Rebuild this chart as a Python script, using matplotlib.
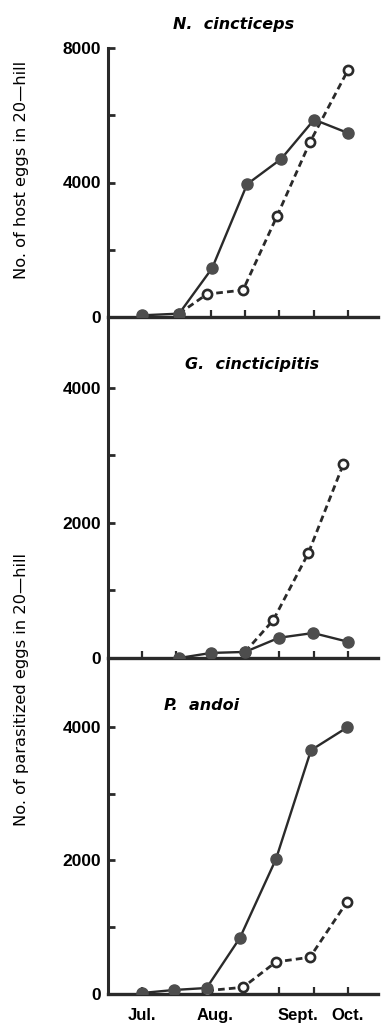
import matplotlib.pyplot as plt

# sampling index (10-day steps from early July to October)
tick_idx = [0, 1, 2, 3, 4, 5, 6]
month_pos = [0, 2.13, 4.55, 5.97]
month_labels = ['Jul.', 'Aug.', 'Sept.', 'Oct.']

# N. cincticeps (host eggs)
host_x_solid = [0, 1.08, 2.04, 3.06, 4.05, 5.01, 6.0]
host_solid = [50, 100, 1450, 3950, 4700, 5870, 5470]
host_x_open = [1.08, 1.89, 2.94, 3.93, 4.89, 6.0]
host_open = [100, 680, 800, 3000, 5200, 7350]

# G. cincticipitis (parasitized eggs)
gon_x_solid = [1.08, 2.01, 3.0, 3.99, 4.98, 6.0]
gon_solid = [0, 75, 90, 300, 370, 240]
gon_x_open = [3.0, 3.82, 4.84, 5.86]
gon_open = [90, 560, 1550, 2870]

# P. andoi (parasitized eggs)
pan_x_solid = [0, 0.93, 1.88, 2.85, 3.9, 4.92, 5.97]
pan_solid = [15, 60, 90, 840, 2020, 3650, 3990]
pan_x_open = [1.9, 2.94, 3.9, 4.89, 5.97]
pan_open = [50, 100, 480, 550, 1380]

line_col = '#2a2a2a'
dot_col = '#4d4d4d'
num_font = ['Liberation Sans', 'DejaVu Sans']

fig = plt.figure(figsize=(3.81, 10.29), dpi=100)
W, H = 381.0, 1029.0


def make_ax(top, bottom):
    return fig.add_axes([108 / W, 1 - bottom / H, (378 - 108) / W, (bottom - top) / H])


ax1 = make_ax(48, 317)
ax2 = make_ax(317, 658)
ax3 = make_ax(658, 994)

panels = [
    (ax1, host_x_solid, host_solid, host_x_open, host_open, 8000, [0, 2000, 4000, 6000, 8000], [0, 4000, 8000]),
    (ax2, gon_x_solid, gon_solid, gon_x_open, gon_open, 5050, [0, 1000, 2000, 3000, 4000], [0, 2000, 4000]),
    (ax3, pan_x_solid, pan_solid, pan_x_open, pan_open, 5030, [0, 1000, 2000, 3000, 4000], [0, 2000, 4000]),
]

for ax, xs, ys, xo, yo, ytop, yticks, ylabeled in panels:
    ax.plot(xo, yo, color=line_col, lw=2.0, ls=(0, (2.4, 1.5)), marker='o', ms=6.6,
            mfc='white', mec=line_col, mew=1.9, zorder=3)
    ax.plot(xs, ys, color=line_col, lw=1.7, marker='o', ms=8, mfc=dot_col, mec=dot_col, zorder=4)
    ax.set_xlim(-0.99, 6.87)
    ax.set_ylim(0, ytop)
    for s in ['top', 'right']:
        ax.spines[s].set_visible(False)
    ax.spines['left'].set_linewidth(2.2)
    ax.spines['bottom'].set_linewidth(2.4)
    ax.spines['left'].set_color(line_col)
    ax.spines['bottom'].set_color(line_col)
    if ax is ax1:
        ax.spines['left'].set_bounds(0, 8000)
    ax.set_yticks(yticks)
    ax.set_yticklabels([str(v) if v in ylabeled else '' for v in yticks],
                       family=num_font, fontsize=12.5, fontweight='bold')
    ax.tick_params(axis='y', direction='in', length=5, width=2, color=line_col, pad=5)
    ax.set_xticks(tick_idx)
    ax.set_xticklabels([])
    ax.tick_params(axis='x', direction='in', length=5, width=1.6, color=line_col)
    ax.patch.set_alpha(0)

# month labels on the bottom panel
ax3.xaxis.remove_overlapping_locs = False
ax3.set_xticks(month_pos, minor=True)
ax3.set_xticklabels(month_labels, minor=True, family=num_font, fontsize=12, fontweight='bold')
ax3.tick_params(axis='x', which='minor', length=0, pad=10)

# species names
title_kw = dict(fontsize=11.5, fontweight='bold', style='italic', ha='center', va='center')
fig.text(234 / W, 1 - 25 / H, 'N.  cincticeps', **title_kw)
fig.text(252 / W, 1 - 365 / H, 'G.  cincticipitis', **title_kw)
fig.text(202 / W, 1 - 705 / H, 'P.  andoi', **title_kw)

# axis titles
fig.text(22 / W, 1 - 170 / H, 'No. of host eggs in 20\u2014hill', rotation=90,
         ha='center', va='center', fontsize=11.7)
fig.text(22 / W, 1 - 690 / H, 'No. of parasitized eggs in 20\u2014hill', rotation=90,
         ha='center', va='center', fontsize=11.7)

fig.savefig('out.png', dpi=100)
